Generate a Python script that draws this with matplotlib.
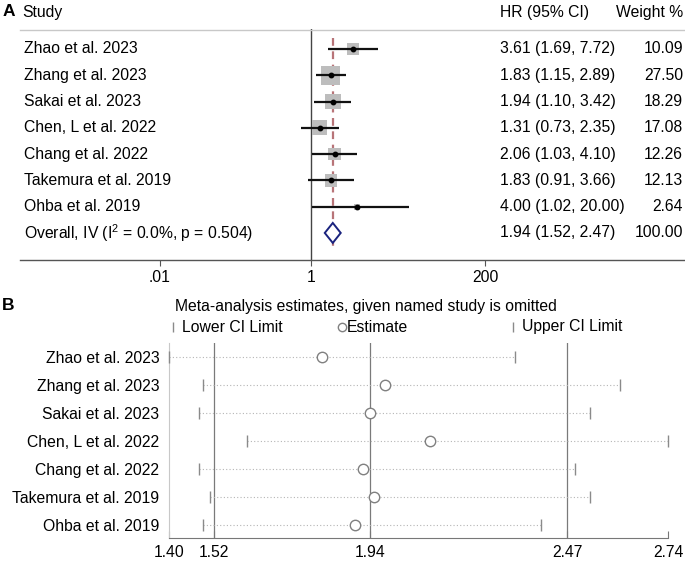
import numpy as np
import matplotlib

matplotlib.use("Agg")
import matplotlib.pyplot as plt
from matplotlib.lines import Line2D
from matplotlib.patches import Polygon

plt.rcParams["font.family"] = ["Liberation Sans", "DejaVu Sans"]
plt.rcParams["mathtext.fontset"] = "custom"
plt.rcParams["mathtext.rm"] = "Liberation Sans"
plt.rcParams["mathtext.it"] = "Liberation Sans:italic"

# ---- data -------------------------------------------------------------
studies = ["Zhao et al. 2023", "Zhang et al. 2023", "Sakai et al. 2023",
           "Chen, L et al. 2022", "Chang et al. 2022", "Takemura et al. 2019",
           "Ohba et al. 2019"]
hr = [3.61, 1.83, 1.94, 1.31, 2.06, 1.83, 4.00]
hr_lo = [1.69, 1.15, 1.10, 0.73, 1.03, 0.91, 1.02]
hr_hi = [7.72, 2.89, 3.42, 2.35, 4.10, 3.66, 20.00]
weights = [10.09, 27.50, 18.29, 17.08, 12.26, 12.13, 2.64]
overall = 1.94
overall_lo = 1.52
overall_hi = 2.47
overall_label = r"Overall, IV (I$^2$ = 0.0%, p = 0.504)"
forest_ticks = [0.01, 1, 200]
forest_ticklabels = [".01", "1", "200"]

# leave-one-out (panel B)
loo_est = [1.81, 1.98, 1.94, 2.10, 1.92, 1.95, 1.90]
loo_lo = [1.40, 1.49, 1.48, 1.61, 1.48, 1.51, 1.49]
loo_hi = [2.33, 2.61, 2.53, 2.74, 2.49, 2.53, 2.40]
loo_ticks = [1.40, 1.52, 1.94, 2.47, 2.74]

# ---- layout helpers ---------------------------------------------------
W, H = 685, 563
fig = plt.figure(figsize=(W / 100, H / 100), dpi=100)
FS = 11.3


def fx(x):
    return x / W


def fy(y):
    return 1 - y / H


def add_axes_px(x0, y0, x1, y1):
    return fig.add_axes([fx(x0), fy(y1), (x1 - x0) / W, (y1 - y0) / H])


# ---- panel A: forest plot --------------------------------------------
axA = add_axes_px(20, 29, 685, 260)
axA.set_xscale("log")
ppd = 75.7  # pixels per decade
axA.set_xlim(10 ** ((20 - 311) / ppd), 10 ** ((685 - 311) / ppd))
n = len(studies)
axA.set_ylim(n + 1.03, -0.76)
for s in ("top", "right", "left"):
    axA.spines[s].set_visible(False)
axA.spines["bottom"].set_color("#555555")
axA.spines["bottom"].set_linewidth(1.0)
axA.set_xticks(forest_ticks)
axA.set_xticklabels(forest_ticklabels, fontsize=FS)
axA.xaxis.set_minor_locator(matplotlib.ticker.NullLocator())
axA.tick_params(axis="x", length=4, color="#555555", pad=3)
axA.set_yticks([])
axA.patch.set_alpha(0)

rows = np.arange(n)
axA.axvline(1, color="#444444", lw=1.0)
axA.plot([overall, overall], [-0.43, n + 0.5], color="#b87478", lw=1.6,
         dashes=(3.5, 2.5))
# weight squares (area proportional to weight)
axA.scatter(hr, rows, marker="s", s=[6.8 * w for w in weights],
            color="#bdbdbd", zorder=2, linewidths=0)
axA.hlines(rows, hr_lo, hr_hi, color="#111111", lw=1.6, zorder=3)
axA.plot(hr, rows, "o", color="black", ms=3.2, zorder=4)
dh = 0.38
axA.add_patch(Polygon([[overall_lo, n], [overall, n - dh], [overall_hi, n],
                       [overall, n + dh]], closed=True, fill=True,
                      facecolor="white", edgecolor="#1a237e", lw=1.4,
                      zorder=3))

top_line = Line2D([fx(20), fx(685)], [fy(30), fy(30)], color="#c8c8c8",
                  lw=1.0, transform=fig.transFigure)
fig.add_artist(top_line)

COL_R = 683
fig.text(fx(3), fy(12), "A", fontsize=12.5, fontweight="bold", va="center")
fig.text(fx(22), fy(12), "Study", fontsize=FS, va="center")
fig.text(fx(500), fy(12), "HR (95% CI)", fontsize=FS, va="center")
fig.text(fx(COL_R), fy(12), "Weight %", fontsize=FS, va="center",
         ha="right")

labels = studies + [overall_label]
hr_txt = [f"{h:.2f} ({l:.2f}, {u:.2f})" for h, l, u in zip(hr, hr_lo, hr_hi)]
hr_txt.append(f"{overall:.2f} ({overall_lo:.2f}, {overall_hi:.2f})")
w_txt = [f"{w:.2f}" for w in weights] + ["100.00"]
for i in range(n + 1):
    y = axA.transData.transform((1, i))[1] / fig.bbox.height
    fig.text(fx(24), y, labels[i], fontsize=FS, va="center")
    fig.text(fx(500), y, hr_txt[i], fontsize=FS, va="center")
    fig.text(fx(COL_R), y, w_txt[i], fontsize=FS, va="center", ha="right")

# ---- panel B: influence analysis -------------------------------------
axB = add_axes_px(169, 343, 668, 538)
axB.set_xlim(loo_ticks[0], loo_ticks[-1])
axB.set_ylim(n - 1 + 0.48, -0.51)
for s in ("top", "right"):
    axB.spines[s].set_visible(False)
axB.spines["left"].set_color("#c8c8c8")
axB.spines["bottom"].set_color("#777777")
axB.set_xticks(loo_ticks)
axB.set_xticklabels([f"{t:.2f}" for t in loo_ticks], fontsize=FS)
axB.tick_params(axis="x", direction="in", length=5, color="#777777", pad=5)
axB.set_yticks(rows)
axB.set_yticklabels(studies, fontsize=FS)
axB.tick_params(axis="y", length=0, pad=7)

for v in (overall_lo, overall, overall_hi):
    axB.axvline(v, color="#7a7a7a", lw=0.9, zorder=1)
axB.hlines(rows, loo_lo, loo_hi, color="#b5b5b5", lw=0.8,
           linestyles=(0, (1, 2)), zorder=2)
axB.plot(loo_lo, rows, "|", color="#8a8a8a", ms=8, mew=1.0, zorder=3,
         clip_on=False)
axB.plot(loo_hi, rows, "|", color="#8a8a8a", ms=8, mew=1.0, zorder=3,
         clip_on=False)
axB.plot(loo_est, rows, "o", mfc="white", mec="#808080", ms=7.5, mew=1.0,
         zorder=4)

fig.text(fx(2), fy(305), "B", fontsize=12.5, fontweight="bold", va="center")
fig.text(fx(175), fy(306),
         "Meta-analysis estimates, given named study is omitted",
         fontsize=FS, va="center")
fig.add_artist(Line2D([fx(173)], [fy(327)], marker="|", ms=7,
                      color="#8a8a8a", transform=fig.transFigure))
fig.text(fx(182), fy(327), "Lower CI Limit", fontsize=FS, va="center")
fig.add_artist(Line2D([fx(342)], [fy(327)], marker="o", ms=6,
                      mfc="white", mec="#808080",
                      transform=fig.transFigure))
fig.text(fx(347), fy(327), "Estimate", fontsize=FS, va="center")
fig.add_artist(Line2D([fx(513)], [fy(327)], marker="|", ms=7,
                      color="#8a8a8a", transform=fig.transFigure))
fig.text(fx(522), fy(327), "Upper CI Limit", fontsize=FS, va="center")

fig.savefig("out.png", dpi=100, facecolor="white")
